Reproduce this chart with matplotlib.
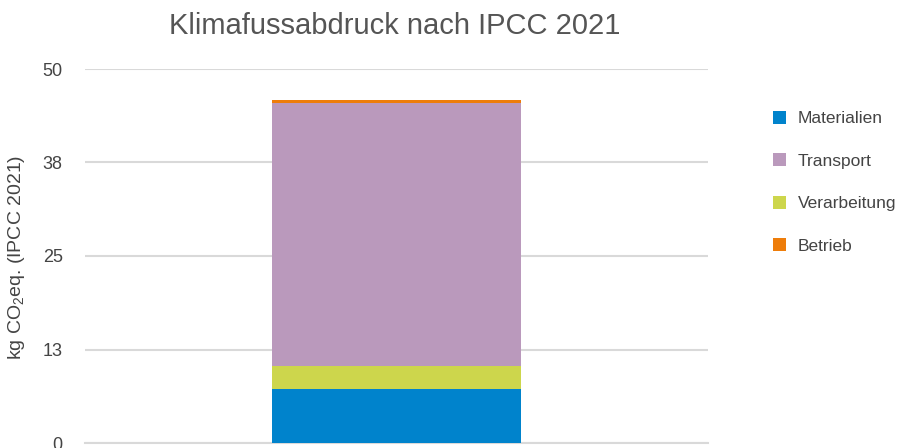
import matplotlib.pyplot as plt

plt.rcParams["font.family"] = ["Liberation Sans", "DejaVu Sans"]
plt.rcParams["mathtext.default"] = "regular"

categories = ["Materialien", "Transport", "Verarbeitung", "Betrieb"]
colors = ["#0083cc", "#ba99bc", "#cdd64c", "#ee7d0a"]
# stacking order from the bottom up
stack_order = ["Materialien", "Verarbeitung", "Transport", "Betrieb"]
values = {"Materialien": 7.2, "Verarbeitung": 3.1, "Transport": 35.2, "Betrieb": 0.35}
tick_values = [0, 12.5, 25, 37.5, 50]
tick_labels = ["0", "13", "25", "38", "50"]

fig = plt.figure(figsize=(9.06, 4.48), dpi=100)
ax = fig.add_axes([85 / 906, 5 / 448, 623 / 906, 374 / 448])

bars = {}
bottom = 0
for name in stack_order:
    c = colors[categories.index(name)]
    bars[name] = ax.bar(0, values[name], width=0.4, bottom=bottom, color=c, zorder=3)
    bottom += values[name]

ax.set_xlim(-0.5, 0.5)
ax.set_ylim(0, 50)
ax.set_yticks(tick_values)
ax.set_yticklabels(tick_labels)
ax.set_xticks([])
ax.tick_params(axis="y", length=0, pad=16, labelsize=13, labelcolor="#444444")
ax.grid(axis="y", color="#d9d9d9", linewidth=1.5, zorder=0)
for s in ["top", "right", "left"]:
    ax.spines[s].set_visible(False)
ax.spines["bottom"].set_color("#d9d9d9")
ax.spines["bottom"].set_linewidth(1.5)

ax.set_ylabel("kg CO$_2$eq. (IPCC 2021)", fontsize=14, color="#444444")
ax.yaxis.set_label_coords(-0.093, 0.497)

fig.text(0.436, 0.942, "Klimafussabdruck nach IPCC 2021", fontsize=21,
         color="#555555", ha="center", va="center")

handles = [bars[n] for n in categories]
ax.legend(handles, categories, loc="upper left", bbox_to_anchor=(1.08, 0.93),
          frameon=False, fontsize=12.5, labelcolor="#444444", handlelength=0.75,
          handleheight=0.75, handletextpad=0.65, labelspacing=1.56)

fig.savefig("out.png", dpi=100)
